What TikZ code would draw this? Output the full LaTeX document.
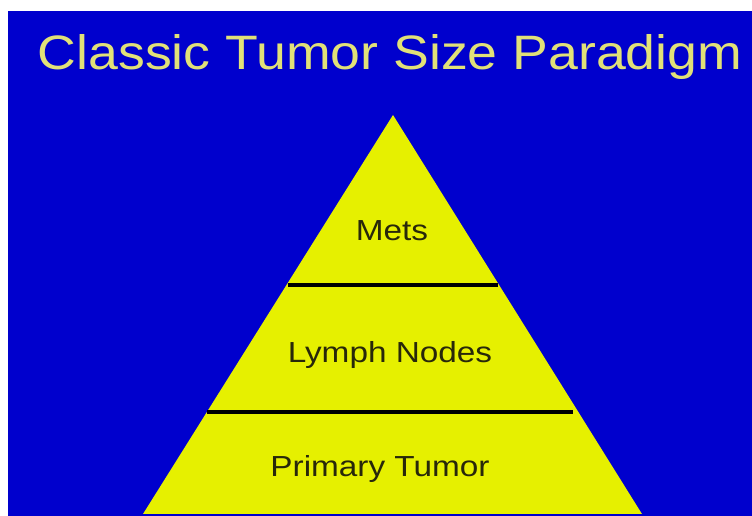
\documentclass[tikz,border=0pt]{standalone}
\usepackage{fontspec}
\setmainfont{Liberation Sans}
\usetikzlibrary{positioning}
\definecolor{slideblue}{RGB}{0,0,205}
\definecolor{pyryellow}{RGB}{230,240,0}
\definecolor{titleyellow}{RGB}{225,225,120}
\definecolor{labeldark}{RGB}{40,40,10}

\begin{document}
\begin{tikzpicture}[x=0.02cm, y=-0.02cm,
  titletext/.style={font=\fontsize{27.5}{32}\selectfont, text=titleyellow, xscale=1.11, inner sep=0pt, anchor=base},
  layertext/.style={font=\fontsize{16.5}{19}\selectfont, text=labeldark, xscale=1.15, inner sep=0pt, anchor=base},
  layerline/.style={line width=2.8pt, black}]

\fill[white] (0,0) rectangle (752,516);
\useasboundingbox (0,0) rectangle (752,516);
\fill[slideblue] (8,11) rectangle (752,516);

\node[titletext] (title) at (390,70) {Classic Tumor Size Paradigm};

\coordinate (apex) at (393,115);
\coordinate (baseL) at (143,514);
\coordinate (baseR) at (642,514);
\fill[pyryellow] (apex) -- (baseR) -- (baseL) -- cycle;

\coordinate (metsL) at (288,285);
\coordinate (metsR) at (498,285);
\coordinate (nodesL) at (207,412);
\coordinate (nodesR) at (573,412);
\foreach \a/\b in {metsL/metsR,nodesL/nodesR} {
  \draw[layerline] (\a) -- (\b);
}

\node[layertext] (mets) at (392,241) {Mets};
\node[layertext] (lymph) at (390,363) {Lymph Nodes};
\node[layertext] (primary) at (380,477) {Primary Tumor};

\end{tikzpicture}
\end{document}
